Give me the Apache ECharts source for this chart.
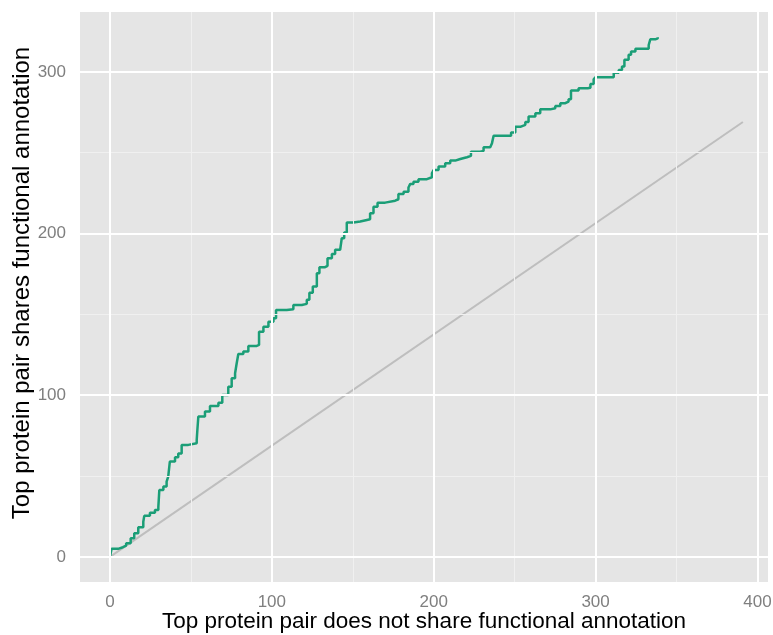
<!DOCTYPE html>
<html>
<head>
<meta charset="utf-8">
<script src="https://cdn.jsdelivr.net/npm/echarts@6/dist/echarts.min.js"></script>
<style>
  html, body { margin: 0; padding: 0; background: #fff; }
  #chart { width: 773px; height: 635px; }
</style>
</head>
<body>
<div id="chart"></div>
<script>
// cumulative counts (x = pairs not sharing, y = pairs sharing)
const notShared = [0, 1, 5, 8, 10, 12.8, 15, 17.5, 20.6, 21.2, 24.7, 27.8, 29.9, 30.5, 33, 35, 36, 37, 40.2, 42.2,
  44.3, 48.4, 53.6, 54, 54.6, 58.7, 61.8, 67, 69.4, 73.1, 75.2, 77.3, 78.3, 79.3, 82.4, 85.5, 90.7, 92.1, 94.8, 97.9,
  101, 102.6, 109.2, 113.3, 118.5, 121.6, 123.2, 125.3, 127.8, 129.4, 132.9, 134.4, 137.1, 139.1, 142.2, 143.2, 144.7, 146.3, 150.4, 154.6,
  158.7, 160.7, 162.8, 165.3, 170, 176.2, 178.2, 181.4, 184.4, 185.5, 187.5, 190.6, 195.8, 198.9, 199.9, 203, 207.1, 210.2, 213.3, 216.4,
  220.5, 223, 228.7, 230.8, 234.9, 236, 237, 246.3, 247.8, 250.4, 253.5, 256.6, 258.6, 262.8, 265.8, 272, 275.1, 278.2, 281.3, 283.3,
  284.8, 289.5, 295.1, 296.8, 298.8, 300, 311.2, 314.3, 316.3, 317.8, 320.4, 321.9, 324.6, 332.8, 333.8, 336.9, 338.4];
const shared = [0, 5, 6, 7, 8.5, 11.6, 14.6, 18.4, 21.8, 25.4, 27.4, 29, 31, 41.4, 43.5, 46.6, 49.7, 59, 61.7, 64,
  69.3, 70.3, 72.4, 78.5, 86.8, 90, 93.4, 95.4, 100.2, 105.3, 110.5, 113.6, 119.8, 125.5, 127, 130.5, 131.1, 139.3, 142.4, 145.5,
  147.6, 152.7, 153.2, 155.8, 156.5, 159, 163.4, 167.2, 175.4, 179.2, 180, 184.7, 187.4, 189.9, 190.3, 197.1, 200.6, 206.8, 207.4, 208.4,
  208.8, 212.5, 216.6, 219.1, 220.3, 221.2, 224.5, 225.9, 228.5, 230.7, 232.1, 233.6, 234.8, 237.3, 239.3, 241.4, 243.5, 245.1, 246.1, 247.2,
  248, 250.6, 251.1, 253.4, 253.8, 255.9, 260.5, 260.5, 262.5, 266, 267.2, 269, 272.3, 274.4, 276.8, 277.5, 278.9, 280.6, 281.6, 283.1,
  288.4, 289.8, 290.2, 292.4, 295.4, 296.7, 299.4, 301.2, 303.3, 307.4, 310.5, 312.5, 314.2, 316.6, 320.1, 320.7, 321.4];

// random expectation line
const diagX = [0, 391];
const diagY = [0, 269];

// axis ticks
const xTicks = [0, 100, 200, 300, 400];
const yTicks = [0, 100, 200, 300];
const xMinor = [50, 150, 250, 350];
const yMinor = [50, 150, 250];

const FONT = '"Liberation Sans", Arial, sans-serif';

const chart = echarts.init(document.getElementById('chart'));

// panel grid lines (ggplot style): minor grey95, major white
const gridLines = [];
xMinor.forEach(v => gridLines.push({ xAxis: v, lineStyle: { color: '#f0f0f0', width: 1, type: 'solid' } }));
yMinor.forEach(v => gridLines.push({ yAxis: v, lineStyle: { color: '#f0f0f0', width: 1, type: 'solid' } }));
xTicks.forEach(v => gridLines.push({ xAxis: v, lineStyle: { color: '#ffffff', width: 2, type: 'solid' } }));
yTicks.forEach(v => gridLines.push({ yAxis: v, lineStyle: { color: '#ffffff', width: 2, type: 'solid' } }));

const option = {
    animation: false,
    grid: {
        left: 80, right: 5, top: 12, bottom: 53,
        containLabel: false,
        outerBoundsMode: 'none',
        show: true, backgroundColor: '#e5e5e5', borderWidth: 0
    },
    xAxis: {
        type: 'value',
        min: -18.5, max: 406.5,
        name: 'Top protein pair does not share functional annotation',
        nameLocation: 'middle', nameGap: 28, nameMoveOverlap: false,
        nameTextStyle: { color: '#000', fontSize: 22.5, fontFamily: FONT },
        axisLine: { show: false },
        axisTick: { show: true, customValues: xTicks, length: 6, lineStyle: { color: '#7f7f7f', width: 1 } },
        axisLabel: { customValues: xTicks, color: '#7f7f7f', fontSize: 17, fontFamily: FONT, margin: 12 },
        splitLine: { show: false }
    },
    yAxis: {
        type: 'value',
        min: -15.5, max: 337,
        name: 'Top protein pair shares functional annotation',
        nameLocation: 'middle', nameGap: 46, nameMoveOverlap: false,
        nameTextStyle: { color: '#000', fontSize: 24, fontFamily: FONT, padding: [0, 0, 0, 28] },
        axisLine: { show: false },
        axisTick: { show: true, customValues: yTicks, length: 6, lineStyle: { color: '#7f7f7f', width: 1 } },
        axisLabel: { customValues: yTicks, color: '#7f7f7f', fontSize: 17, fontFamily: FONT, margin: 14 },
        splitLine: { show: false }
    },
    series: [
        {
            name: 'grid',
            type: 'line',
            data: [],
            z: 1,
            silent: true,
            markLine: { silent: true, symbol: 'none', label: { show: false }, animation: false, data: gridLines }
        },
        {
            name: 'expected',
            type: 'line',
            z: 2,
            data: diagX.map((x, i) => [x, diagY[i]]),
            symbol: 'none',
            lineStyle: { color: '#bebebe', width: 2 }
        },
        {
            name: 'observed',
            type: 'line',
            z: 3,
            step: 'end',
            data: notShared.map((x, i) => [x, shared[i]]),
            symbol: 'none',
            lineStyle: { color: '#1b9e77', width: 2.5 }
        }
    ]
};

chart.setOption(option);
</script>
</body>
</html>
